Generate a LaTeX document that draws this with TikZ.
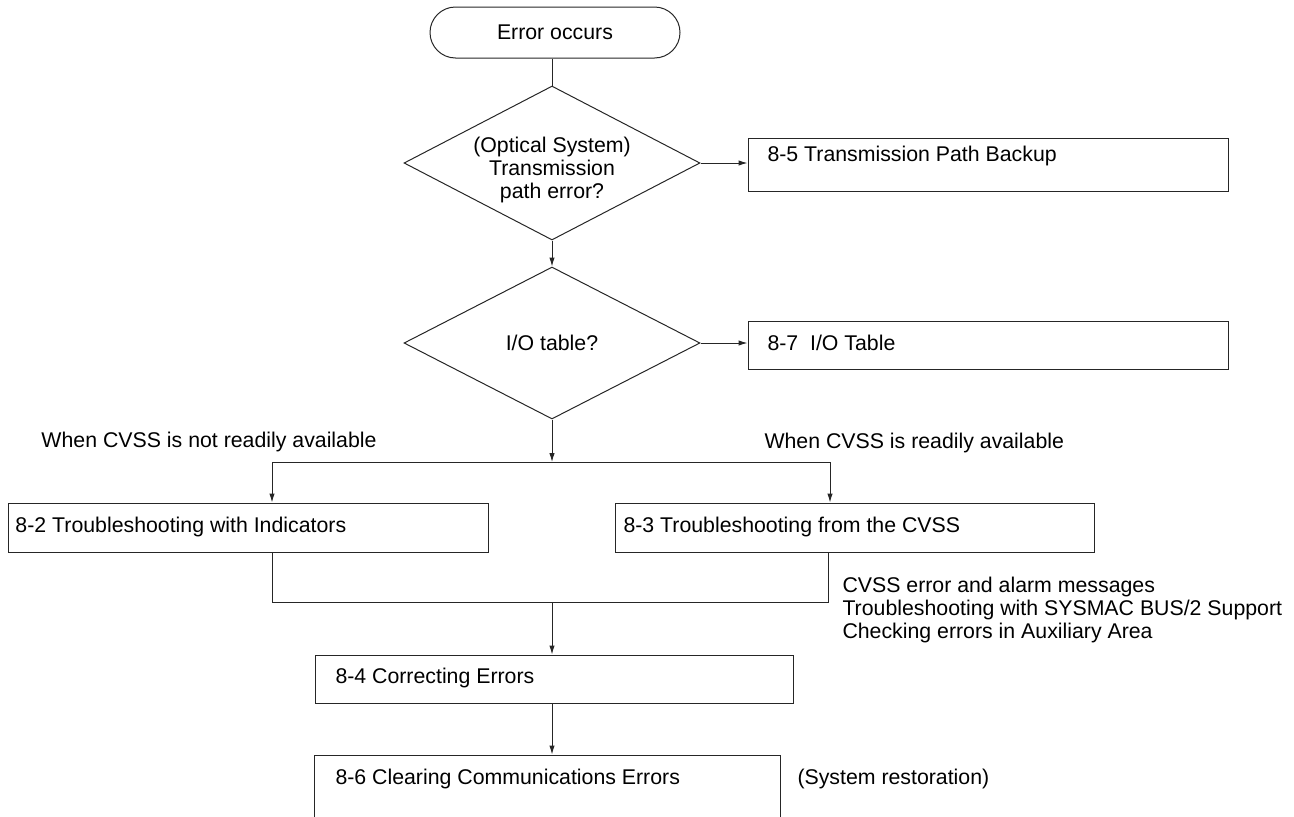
\documentclass[tikz,border=0pt]{standalone}
\usepackage{fontspec}
\setmainfont{Liberation Sans}
\usetikzlibrary{shapes.geometric,shapes.misc,arrows.meta}
\begin{document}
\begin{tikzpicture}[x=1pt,y=-1pt,
  line width=1pt, draw=black!85,
  every node/.style={font=\fontsize{21.3}{23}\selectfont, text=black},
  arr/.style={-{Latex[length=9pt,width=5.5pt]}},
  box/.style={draw, rectangle, inner sep=0pt},
  dia/.style={draw, diamond, inner sep=0pt},
  term/.style={draw, rounded rectangle, inner sep=0pt},
  txt/.style={anchor=west, inner sep=0pt}]
\useasboundingbox (0,0) rectangle (1294,817);
\clip (0,0) rectangle (1294,817);

% nodes
\node[term, minimum width=250pt, minimum height=51pt] (t) at (555,32.5) {Error occurs};
\node[dia, minimum width=296pt, minimum height=154pt] (d1) at (552,163) {};
\node[align=center, inner sep=0pt] (d1t) at (552,170) {(Optical System)\\Transmission\\path error?};
\node[dia, minimum width=296pt, minimum height=152pt] (d2) at (552,343) {};
\node[inner sep=0pt] (d2t) at (552,343) {I/O table?};

\node[box, minimum width=480pt, minimum height=53pt] (b5) at (988,164.5) {};
\node[txt] (b5t) at (767,156) {8-5 Transmission Path Backup};
\node[box, minimum width=480pt, minimum height=48pt] (b7) at (988,345) {};
\node[txt] (b7t) at (767,343) {8-7\ \ I/O Table};

\node[box, minimum width=480pt, minimum height=49pt] (b2) at (248,527.5) {};
\node[txt] (b2t) at (15,527) {8-2 Troubleshooting with Indicators};
\node[box, minimum width=479pt, minimum height=49pt] (b3) at (854.5,527.5) {};
\node[txt] (b3t) at (623,527) {8-3 Troubleshooting from the CVSS};

\node[box, minimum width=478pt, minimum height=48pt] (b4) at (554,679) {};
\node[txt] (b4t) at (335,678) {8-4 Correcting Errors};
\node[box, minimum width=466pt, minimum height=120pt] (b6) at (547,815) {};
\node[txt] (b6t) at (335,779) {8-6 Clearing Communications Errors};
\node[txt] (sr) at (797,779) {(System restoration)};

\node[txt] (l1) at (41,442) {When CVSS is not readily available};
\node[txt] (l2) at (764,443) {When CVSS is readily available};
\node[txt, align=left] (l3) at (842,610)
  {CVSS error and alarm messages\\Troubleshooting with SYSMAC BUS/2 Support\\Checking errors in Auxiliary Area};

% coordinates
\coordinate (jl) at (272,462);
\coordinate (j) at (552,462);
\coordinate (jr) at (830,462);
\coordinate (ml) at (272,602);
\coordinate (m) at (552,602);
\coordinate (mr) at (828,602);

% connectors
\draw (t.south -| d1.north) -- (d1.north);
\draw[arr] (d1.south) -- (d2.north);
\draw[arr] (d1.east) -- (b5.west |- d1.east);
\draw[arr] (d2.east) -- (b7.west |- d2.east);
\draw[arr] (d2.south) -- (j);
\draw (jl) -- (jr);
\draw[arr] (jl) -- (jl |- b2.north);
\draw[arr] (jr) -- (jr |- b3.north);
\draw (ml |- b2.south) -- (ml) -- (mr) -- (mr |- b3.south);
\draw[arr] (m) -- (m |- b4.north);
\draw[arr] (m |- b4.south) -- (m |- b6.north);
\end{tikzpicture}
\end{document}
